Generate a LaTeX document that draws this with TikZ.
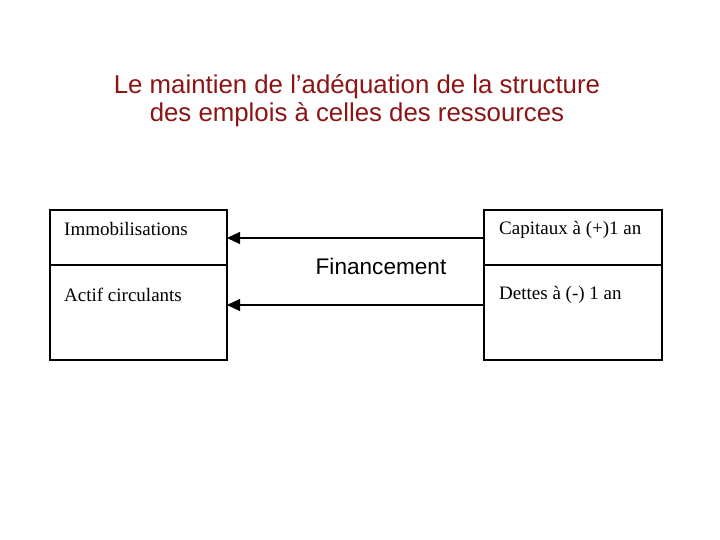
\documentclass[tikz,border=0pt]{standalone}
\usepackage{fontspec}
\setmainfont{Liberation Serif}
\newfontfamily\titlefont{Liberation Sans}
\usetikzlibrary{arrows.meta}
\definecolor{titlered}{RGB}{140,20,20}
\begin{document}
\begin{tikzpicture}[x=1pt,y=-1pt,
  boxline/.style={draw=black,line width=1.1pt},
  lbl/.style={anchor=west,font=\fontsize{19}{21}\selectfont,inner sep=0pt},
  arr/.style={-{Triangle[length=13pt,width=12pt]},line width=1.1pt}]
\useasboundingbox (0,0) rectangle (720,540);
\node[font=\titlefont\fontsize{25.8}{28}\selectfont,text=titlered,align=center] (title) at (357,101) {Le maintien de l’adéquation de la structure\\des emplois à celles des ressources};
\draw[boxline] (50,210) rectangle (227,360);
\draw[boxline] (50,265) -- (227,265);
\draw[boxline] (484,210) rectangle (662,360);
\draw[boxline] (484,265) -- (662,265);
\node[lbl] (immo) at (64,229) {Immobilisations};
\node[lbl] (actif) at (64,295) {Actif circulants};
\node[lbl] (cap) at (499,230) {Capitaux à (+)1 an};
\node[lbl] (dettes) at (499,295) {Dettes à (-) 1 an};
\coordinate (r1) at (484,238); \coordinate (l1) at (227,238);
\coordinate (r2) at (484,305); \coordinate (l2) at (227,305);
\draw[arr] (r1) -- (l1);
\draw[arr] (r2) -- (l2);
\node[font=\titlefont\fontsize{22.6}{24}\selectfont] (fin) at (381,266) {Financement};
\end{tikzpicture}
\end{document}
